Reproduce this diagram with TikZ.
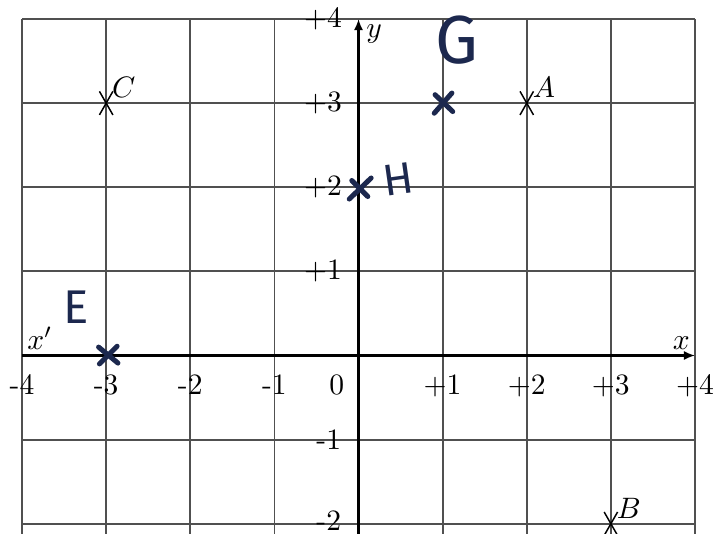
\documentclass[tikz,border=0pt]{standalone}
\usepackage{fontspec}
\newfontfamily\handfont{Fira Sans}
\usetikzlibrary{arrows.meta,calc}
\definecolor{ink}{RGB}{28,40,78}
\definecolor{gridgray}{RGB}{80,80,80}
\tikzset{
  gridline/.style={draw=gridgray, line width=0.6pt},
  axisline/.style={draw=black, line width=1.1pt, -{Latex[length=3.8pt,width=3.2pt]}},
  xnum/.style={anchor=north, inner sep=0pt},
  ynum/.style={anchor=east, inner sep=0pt},
  ptmark/.style={draw=black, line width=0.5pt},
  handcross/.style={draw=ink, line width=1.7pt, line cap=round},
  handtext/.style={text=ink, font=\handfont, inner sep=0pt}
}
\begin{document}
\begin{tikzpicture}[x=1cm,y=1cm]
\useasboundingbox (-4.262,-2.119) rectangle (4.309,4.226);
% grid
\foreach \y in {-2,...,4} \draw[gridline] (-4,\y) -- (4,\y);
\foreach \x in {-4,...,4} \draw[gridline] (\x,-2.12) -- (\x,4);
% axes
\coordinate (xs) at (-4,0); \coordinate (xe) at (4,0);
\coordinate (ys) at (0,-2.12); \coordinate (ye) at (0,4);
\draw[axisline] (xs) -- (xe);
\draw[axisline] (ys) -- (ye);
\node[anchor=south east, inner sep=1pt] (xl) at (3.98,0.03) {$x$};
\node[anchor=north west, inner sep=1pt] (yl) at (0.05,3.97) {$y$};
\node[anchor=south west, inner sep=1pt] (xpl) at (-3.98,0.03) {$x'$};
% x numbers
\node[xnum] (nxm4) at (-4,-0.22) {-4};
\node[xnum] (nxm3) at (-3,-0.22) {-3};
\node[xnum] (nxm2) at (-2,-0.22) {-2};
\node[xnum] (nxm1) at (-1,-0.22) {-1};
\node[xnum] (nx0) at (-0.26,-0.22) {0};
\node[xnum] (nx1) at (1,-0.22) {+1};
\node[xnum] (nx2) at (2,-0.22) {+2};
\node[xnum] (nx3) at (3,-0.22) {+3};
\node[xnum] (nx4) at (4,-0.22) {+4};
% y numbers
\node[ynum] (ny4) at (-0.19,4) {+4};
\node[ynum] (ny3) at (-0.19,3) {+3};
\node[ynum] (ny2) at (-0.19,2) {+2};
\node[ynum] (ny1) at (-0.19,1) {+1};
\node[ynum] (nym1) at (-0.2,-1) {-1};
\node[ynum] (nym2) at (-0.2,-1.96) {-2};
% printed points
\coordinate (pA) at (2,3);
\coordinate (pB) at (3,-2);
\coordinate (pC) at (-3,3);
\foreach \n in {A,B,C} {
  \draw[ptmark] ($(p\n)+(-0.08,-0.14)$) -- ($(p\n)+(0.08,0.14)$);
  \draw[ptmark] ($(p\n)+(-0.08,0.14)$) -- ($(p\n)+(0.08,-0.14)$);
}
\node[anchor=south west, inner sep=1pt] (lA) at (2.03,3.02) {$A$};
\node[anchor=south west, inner sep=1pt] (lB) at (3.03,-1.98) {$B$};
\node[anchor=south west, inner sep=1pt] (lC) at (-2.97,3.02) {$C$};
% handwritten annotations
\coordinate (hG) at (1,3);
\coordinate (hH) at (0.02,1.99);
\coordinate (hE) at (-2.98,0.01);
\draw[handcross] ($(hG)+(-0.1,-0.12)$) -- ($(hG)+(0.11,0.12)$);
\draw[handcross] ($(hG)+(-0.09,0.1)$) -- ($(hG)+(0.12,-0.1)$);
\draw[handcross] ($(hH)+(-0.13,-0.13)$) -- ($(hH)+(0.13,0.12)$);
\draw[handcross] ($(hH)+(-0.1,0.09)$) -- ($(hH)+(0.09,-0.1)$);
\draw[handcross] ($(hE)+(-0.11,0.09)$) -- ($(hE)+(0.12,-0.1)$);
\draw[handcross] ($(hE)+(-0.1,-0.11)$) -- ($(hE)+(0.11,0.1)$);
\node[handtext, font=\handfont\fontsize{23}{23}\selectfont] (tG) at (1.17,3.75) {G};
\node[handtext, font=\handfont\fontsize{15}{15}\selectfont, rotate=8] (tH) at (0.47,2.1) {H};
\node[handtext, font=\handfont\fontsize{16}{16}\selectfont] (tE) at (-3.36,0.57) {E};
\end{tikzpicture}
\end{document}
